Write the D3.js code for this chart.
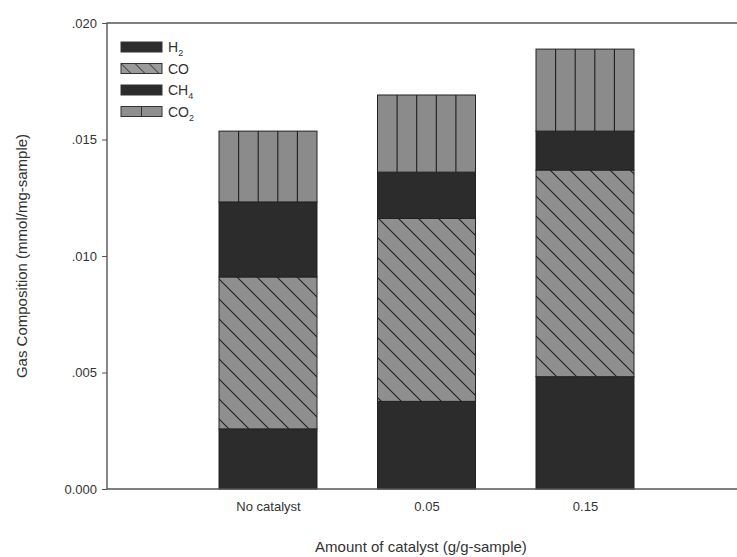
<!DOCTYPE html>
<html>
<head>
<meta charset="utf-8">
<script src="https://cdn.jsdelivr.net/npm/d3@7"></script>
<style>
  body { margin: 0; background: #fff; }
  svg { display: block; font-family: "Liberation Sans", Arial, sans-serif; }
</style>
</head>
<body>
<svg id="chart" width="737" height="557"></svg>
<script>
const categories = ["No catalyst", "0.05", "0.15"];
const seriesNames = ["H2", "CO", "CH4", "CO2"];
const H2 = [0.00258, 0.00376, 0.00482];
const CO = [0.00652, 0.00785, 0.00887];
const CH4 = [0.00322, 0.00199, 0.00167];
const CO2 = [0.00304, 0.00331, 0.00352];
const yTicks = [0, 0.005, 0.010, 0.015, 0.020];
const yTickLabels = ["0.000", ".005", ".010", ".015", ".020"];

(function () {
const svg = d3.select("#chart");
const pLeft = 107, pRight = 741, pTop = 23, pBottom = 489;

const x = d3.scalePoint().domain(categories).range([pLeft + 2.5, pRight + 2.5]).padding(1);
const y = d3.scaleLinear().domain([0, 0.020]).range([pBottom, pTop]);
const barW = 98;

const defs = svg.append("defs");
const diag = defs.append("pattern").attr("id", "diag")
  .attr("patternUnits", "userSpaceOnUse").attr("width", 20).attr("height", 20);
diag.append("rect").attr("width", 20).attr("height", 20).attr("fill", "#8f8f8f");
diag.append("path").attr("d", "M-5,-5 L25,25 M-5,15 L5,25 M15,-5 L25,5")
  .attr("stroke", "#1e1e1e").attr("stroke-width", 1.1);
const diagL = defs.append("pattern").attr("id", "diagL")
  .attr("patternUnits", "userSpaceOnUse").attr("width", 14).attr("height", 14);
diagL.append("rect").attr("width", 14).attr("height", 14).attr("fill", "#9a9a9a");
diagL.append("path").attr("d", "M-4,-4 L18,18")
  .attr("stroke", "#2a2a2a").attr("stroke-width", 1);

const colors = { H2: "#2c2c2c", CO: "url(#diag)", CH4: "#2c2c2c", CO2: "#8b8b8b" };

const data = categories.map((c, i) => ({ cat: c, H2: H2[i], CO: CO[i], CH4: CH4[i], CO2: CO2[i] }));
const stacked = d3.stack().keys(seriesNames)(data);

const g = svg.append("g");
stacked.forEach(layer => {
  const key = layer.key;
  layer.forEach(d => {
    const bx = x(d.data.cat) - barW / 2;
    g.append("rect")
      .attr("x", bx).attr("y", y(d[1]))
      .attr("width", barW).attr("height", y(d[0]) - y(d[1]))
      .attr("fill", colors[key]).attr("stroke", "#222").attr("stroke-width", 1);
    if (key === "CO2") {
      for (let k = 1; k < 5; k++) {
        g.append("line")
          .attr("x1", bx + k * barW / 5).attr("x2", bx + k * barW / 5)
          .attr("y1", y(d[1])).attr("y2", y(d[0]))
          .attr("stroke", "#1e1e1e").attr("stroke-width", 1.1);
      }
    }
  });
});

// frame
svg.append("path")
  .attr("d", `M${pRight},${pTop} L${pLeft},${pTop} L${pLeft},${pBottom} L${pRight},${pBottom}`)
  .attr("fill", "none").attr("stroke", "#555").attr("stroke-width", 1.4);

// y axis
const yAxis = svg.append("g").attr("transform", `translate(${pLeft},0)`)
  .call(d3.axisLeft(y).tickValues(yTicks).tickSize(5).tickFormat((d, i) => yTickLabels[i]));
yAxis.select(".domain").remove();
yAxis.selectAll("line").attr("stroke", "#555");
yAxis.selectAll("text").attr("font-size", 13).attr("fill", "#333").attr("dx", -2)
  .attr("font-family", "'Liberation Sans', Arial, sans-serif");

// x axis labels
const xAxis = svg.append("g").attr("transform", `translate(0,${pBottom})`)
  .call(d3.axisBottom(x).tickSize(0).tickPadding(13));
xAxis.select(".domain").remove();
xAxis.selectAll("text").attr("font-size", 13).attr("fill", "#333")
  .attr("font-family", "'Liberation Sans', Arial, sans-serif");

// axis titles
svg.append("text").attr("x", 421).attr("y", 552).attr("text-anchor", "middle")
  .attr("font-size", 15).attr("fill", "#333").text("Amount of catalyst (g/g-sample)");
svg.append("text").attr("transform", "translate(27,256) rotate(-90)")
  .attr("text-anchor", "middle").attr("font-size", 15).attr("fill", "#333")
  .text("Gas Composition (mmol/mg-sample)");

// legend
const legendFill = { H2: "#2c2c2c", CO: "url(#diagL)", CH4: "#2c2c2c", CO2: "#8f8f8f" };
const legendLabel = { H2: ["H", "2"], CO: ["CO", ""], CH4: ["CH", "4"], CO2: ["CO", "2"] };
const lg = svg.append("g").attr("transform", "translate(121,42)");
seriesNames.forEach((s, i) => {
  const row = lg.append("g").attr("transform", `translate(0,${i * 21.5})`);
  row.append("rect").attr("width", 41).attr("height", 10)
    .attr("fill", legendFill[s]).attr("stroke", "#333").attr("stroke-width", 1);
  if (s === "CO2") {
    row.append("line").attr("x1", 20.5).attr("x2", 20.5).attr("y1", 0).attr("y2", 10)
      .attr("stroke", "#333");
  }
  const t = row.append("text").attr("x", 47).attr("y", 10).attr("font-size", 14).attr("fill", "#333");
  t.append("tspan").text(legendLabel[s][0]);
  if (legendLabel[s][1]) {
    t.append("tspan").attr("font-size", 9).attr("dy", 4).text(legendLabel[s][1]);
  }
});
})();
</script>
</body>
</html>
